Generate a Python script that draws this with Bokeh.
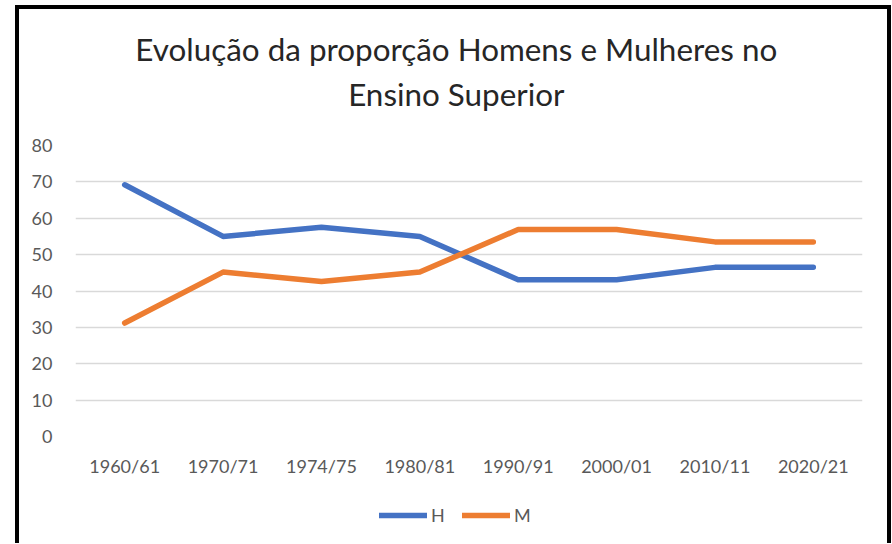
from bokeh.plotting import figure
from bokeh.models import Legend, LegendItem, Label, FactorRange, Range1d, FixedTicker
from bokeh.layouts import column
from bokeh.embed import file_html
from bokeh.resources import INLINE

categories = ["1960/61", "1970/71", "1974/75", "1980/81", "1990/91", "2000/01", "2010/11", "2020/21"]
homens = [69.2, 55.0, 57.5, 55.0, 43.1, 43.1, 46.5, 46.5]
mulheres = [31.2, 45.2, 42.6, 45.2, 56.9, 56.9, 53.5, 53.5]
y_ticks = [0, 10, 20, 30, 40, 50, 60, 70, 80]
series_names = ["H", "M"]
title_lines = ["Evolução da proporção Homens e Mulheres no", "Ensino Superior"]

FONT = "Lato"
BLUE = "#4472C4"
ORANGE = "#ED7D31"
LW = 5.5
W = 868


def bare(height, x_range, y_range):
    f = figure(width=W, height=height, output_backend="svg", toolbar_location=None,
               x_range=x_range, y_range=y_range, x_axis_location=None, y_axis_location=None,
               min_border_left=0, min_border_right=0, min_border_top=0, min_border_bottom=0)
    f.title = None
    f.grid.visible = False
    f.outline_line_color = None
    f.background_fill_color = "white"
    f.border_fill_color = "white"
    return f


# title strip (1 data unit = 1 pixel)
TH = 124
tf = bare(TH, Range1d(0, W), Range1d(0, TH))
for txt, yy in zip(title_lines, [85, 40]):
    tf.add_layout(Label(x=420, y=yy, text=txt, text_align="center", text_baseline="middle",
                        text_font=FONT, text_font_size="31.4px", text_color="#262626"))

# main chart
p = figure(width=W, height=362, output_backend="svg", toolbar_location=None,
           x_range=FactorRange(*categories, range_padding=0), y_range=Range1d(0, 80),
           min_border_left=56, min_border_right=25, min_border_top=12, min_border_bottom=59)
p.title = None
p.outline_line_color = None
p.background_fill_color = "white"
p.border_fill_color = "white"
p.xgrid.grid_line_color = None
p.ygrid.grid_line_color = "#d9d9d9"
p.ygrid.grid_line_width = 1.5
p.yaxis.ticker = FixedTicker(ticks=y_ticks)
for ax in (p.xaxis[0], p.yaxis[0]):
    ax.axis_line_color = None
    ax.major_tick_line_color = None
    ax.minor_tick_line_color = None
    ax.major_label_text_font = FONT
    ax.major_label_text_font_size = "18px"
    ax.major_label_text_color = "#595959"
p.yaxis.major_label_standoff = 17
p.xaxis.major_label_standoff = 12

p.line(categories, homens, line_color=BLUE, line_width=LW, line_cap="round", line_join="round")
p.line(categories, mulheres, line_color=ORANGE, line_width=LW, line_cap="round", line_join="round")

# legend strip: same series drawn outside its visible y-range, used only as legend sources
lg = bare(48, FactorRange(*categories, range_padding=0), Range1d(-2, -1))
lh = lg.line(categories, homens, line_color=BLUE, line_width=LW, line_cap="round")
lm = lg.line(categories, mulheres, line_color=ORANGE, line_width=LW, line_cap="round")
legend = Legend(items=[LegendItem(label=series_names[0], renderers=[lh]),
                       LegendItem(label=series_names[1], renderers=[lm])],
                orientation="horizontal", location=(304, 17), border_line_color=None,
                background_fill_alpha=0, glyph_width=48, glyph_height=20,
                label_text_font=FONT, label_text_font_size="18px", label_text_color="#595959",
                label_standoff=4, spacing=11, padding=0, margin=0)
lg.add_layout(legend)

tf.styles = {"box-shadow": "-4px -4px 0 0 black, 4px -4px 0 0 black, -4px 0 0 0 black, 4px 0 0 0 black"}
p.styles = {"box-shadow": "-4px 0 0 0 black, 4px 0 0 0 black"}
lg.styles = {"box-shadow": "-4px 0 0 0 black, 4px 0 0 0 black"}

layout = column(tf, p, lg, spacing=0)
layout.margin = (9, 0, 0, 19)

open("out.html", "w").write(file_html(layout, INLINE))
